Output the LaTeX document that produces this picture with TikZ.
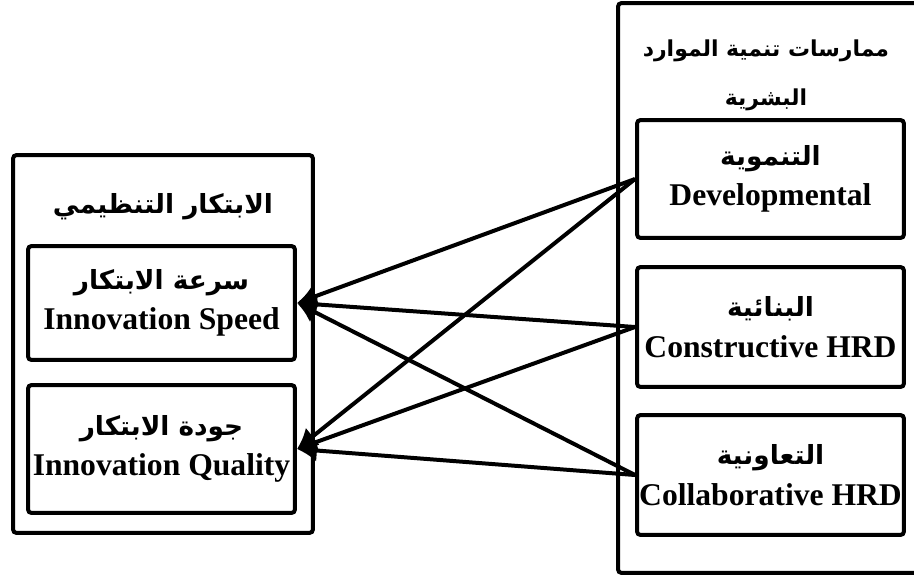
\documentclass[tikz,border=0pt]{standalone}
\usepackage{fontspec}
\setmainfont{Liberation Serif}
\newfontfamily\arabicfont[Script=Arabic]{DejaVu Sans}
\TeXXeTstate=1
\usetikzlibrary{arrows.meta,positioning}
\definecolor{inkblack}{HTML}{000000}
\newcommand{\ar}[2][16]{{\arabicfont\bfseries\fontsize{#1}{23}\selectfont\beginR #2\endR}}
\tikzset{
  frame/.style={draw=inkblack, line width=0.08cm, rounded corners=2pt, inner sep=0pt},
  varbox/.style={frame, align=center, font=\fontsize{18}{23}\selectfont\bfseries},
  headtitle/.style={align=center, inner sep=0pt, font=\fontsize{18}{28}\selectfont},
  arrow/.style={-{Latex[length=4mm,width=4.5mm]}, line width=0.08cm, draw=inkblack}
}

\begin{document}
\begin{tikzpicture}[x=0.02cm,y=-0.02cm]
  \clip (0,0) rectangle (914,579);

  % outer frames
  \node[frame, minimum width=6cm, minimum height=7.56cm] (org) at (163,344) {};
  \node[frame, minimum width=6.24cm, minimum height=11.4cm] (hrd) at (774,288) {};
  \node[headtitle] (orgTitle) at (163,207) {\ar[15]{الابتكار التنظيمي}};
  \node[headtitle] (hrdTitle) at (766,75) {\ar[12.5]{ممارسات تنمية الموارد}\\ \ar[12.5]{البشرية}};

  % dependent variables
  \node[varbox, minimum width=5.34cm, minimum height=2.28cm] (speed) at (161.5,303) {\ar[15]{سرعة الابتكار}\\Innovation Speed};
  \node[varbox, minimum width=5.34cm, minimum height=2.56cm] (quality) at (161.5,449) {\ar[15]{جودة الابتكار}\\Innovation Quality};

  % independent variables
  \node[varbox, minimum width=5.34cm, minimum height=2.36cm] (developmental) at (770.5,179) {\ar[15]{التنموية}\\Developmental};
  \node[varbox, minimum width=5.34cm, minimum height=2.4cm] (constructive) at (770.5,327) {\ar[15]{البنائية}\\Constructive HRD};
  \node[varbox, minimum width=5.34cm, minimum height=2.4cm] (collaborative) at (770.5,475) {\ar[15]{التعاونية}\\Collaborative HRD};

  \draw[arrow] (developmental.west) -- (speed.east);
  \draw[arrow] (developmental.west) -- (quality.east);
  \draw[arrow] (constructive.west) -- (speed.east);
  \draw[arrow] (constructive.west) -- (quality.east);
  \draw[arrow] (collaborative.west) -- (speed.east);
  \draw[arrow] (collaborative.west) -- (quality.east);
\end{tikzpicture}
\end{document}
